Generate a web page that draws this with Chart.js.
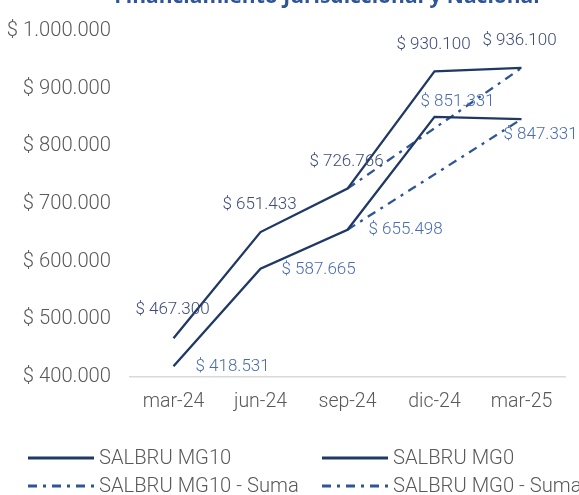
<!DOCTYPE html>
<html>
<head>
<meta charset="utf-8">
<script src="https://cdn.jsdelivr.net/npm/chart.js@4.4.1/dist/chart.umd.min.js"></script>
<style>
  html, body { margin: 0; padding: 0; background: #fff; overflow: hidden; }
  #wrap { position: relative; width: 579px; height: 495px; }
  #c { position: absolute; left: 0; top: 0; }
  .leg { position: absolute; font-family: Roboto, "Liberation Sans", sans-serif; font-weight: 300;
         font-size: 20.2px; color: #595959; white-space: nowrap; line-height: 22px; }
  .leg svg { position: absolute; left: 0; top: 10px; }
  .leg span { position: absolute; left: 71px; top: 0; }
</style>
</head>
<body>
<div id="wrap">
  <canvas id="c" width="579" height="495"></canvas>
  <div id="legend"></div>
</div>
<script>
// ---- Data ----
const categories = ["mar-24", "jun-24", "sep-24", "dic-24", "mar-25"];
const salbruMG10 = [467300, 651433, 726766, 930100, 936100];
const salbruMG0 = [418531, 587665, 655498, 851331, 847331];
const salbruMG10Suma = [null, null, 726766, null, 936100];
const salbruMG0Suma = [null, null, 655498, null, 847331];
const yTicks = [400000, 500000, 600000, 700000, 800000, 900000, 1000000];
const seriesNames = ["SALBRU MG10", "SALBRU MG0", "SALBRU MG10 - Suma", "SALBRU MG0 - Suma"];
const titleText = "Financiamiento Jurisdiccional y Nacional";

// ---- Styles ----
const NAVY = "#1f3864";
const DASHBLUE = "#2f5597";
const DASH = [9, 6, 3, 6];
const FONT = "Roboto, 'Liberation Sans', sans-serif";

function fmt(v) {
  return "$ " + String(Math.round(v)).replace(/\B(?=(\d{3})+(?!\d))/g, ".");
}

// label placement styles (offsets from point, px)
const labelStyles = {
  0: { color: "#3d4c78", align: "center", offsets: [[-1,-28],[-1,-27],[-1,-27],[-1,-27],[-2,-27]] },
  1: { color: "#4a6cb2", align: "left", offsets: [[22,0],[21,1],[21,0],[-14,-15],[-18,16]] }
};

const labelPlugin = {
  id: "pointLabels",
  afterDatasetsDraw(chart) {
    const ctx = chart.ctx;
    ctx.save();
    ctx.font = "300 17px " + FONT;
    ctx.textBaseline = "middle";
    Object.keys(labelStyles).forEach(k => {
      const i = Number(k);
      const st = labelStyles[k];
      const meta = chart.getDatasetMeta(i);
      const data = chart.data.datasets[i].data;
      ctx.fillStyle = st.color;
      ctx.textAlign = st.align;
      meta.data.forEach((pt, j) => {
        if (data[j] == null) return;
        const o = st.offsets[j];
        ctx.fillText(fmt(data[j]), pt.x + o[0], pt.y + o[1]);
      });
    });
    ctx.restore();
  }
};

const titlePlugin = {
  id: "cutTitle",
  afterDraw(chart) {
    const ctx = chart.ctx;
    ctx.save();
    ctx.font = "bold 21px 'Open Sans', " + FONT;
    ctx.fillStyle = "#2f5597";
    ctx.textAlign = "center";
    ctx.textBaseline = "alphabetic";
    ctx.fillText(titleText, 327, 3);
    ctx.restore();
  }
};

new Chart(document.getElementById("c"), {
  type: "line",
  data: {
    labels: categories,
    datasets: [
      { label: seriesNames[0], data: salbruMG10, borderColor: NAVY, borderWidth: 2.3 },
      { label: seriesNames[1], data: salbruMG0, borderColor: NAVY, borderWidth: 2.3 },
      { label: seriesNames[2], data: salbruMG10Suma, borderColor: DASHBLUE, borderWidth: 2.3, borderDash: DASH, spanGaps: true },
      { label: seriesNames[3], data: salbruMG0Suma, borderColor: DASHBLUE, borderWidth: 2.3, borderDash: DASH, spanGaps: true }
    ]
  },
  options: {
    responsive: false,
    animation: false,
    events: [],
    elements: { point: { radius: 0 }, line: { tension: 0, fill: false, borderCapStyle: "butt" } },
    layout: { padding: { top: 23, right: 14, left: 0, bottom: 78 } },
    plugins: { legend: { display: false }, tooltip: { enabled: false }, title: { display: false } },
    scales: {
      x: {
        offset: true,
        grid: { display: false, drawTicks: false, offset: true },
        border: { display: true, color: "#d9d9d9", width: 1.5 },
        ticks: { color: "#595959", font: { family: FONT, size: 19.5, weight: 300 }, padding: 13, maxRotation: 0 },
        afterFit(s) { s.height = 40; }
      },
      y: {
        min: 400000, max: 1000000,
        afterBuildTicks(s) { s.ticks = yTicks.map(v => ({ value: v })); },
        grid: { display: false, drawTicks: false },
        border: { display: false },
        ticks: { color: "#595959", font: { family: FONT, size: 20.2, weight: 300 }, padding: 19, callback: v => fmt(v) },
        afterFit(s) { s.width = 130; }
      }
    }
  },
  plugins: [labelPlugin, titlePlugin]
});

// ---- HTML legend ----
const legendPos = [[28, 446], [322, 446], [28, 474], [322, 474]];
const legendDashed = [false, false, true, true];
const legendColor = [NAVY, NAVY, DASHBLUE, DASHBLUE];
const lg = document.getElementById("legend");
seriesNames.forEach((name, i) => {
  const d = document.createElement("div");
  d.className = "leg";
  d.style.left = legendPos[i][0] + "px";
  d.style.top = legendPos[i][1] + "px";
  const dash = legendDashed[i] ? ' stroke-dasharray="' + DASH.join(" ") + '"' : "";
  d.innerHTML = '<svg width="66" height="4"><line x1="0" y1="2" x2="66" y2="2" stroke="' + legendColor[i] +
    '" stroke-width="3"' + dash + '/></svg><span>' + name + '</span>';
  lg.appendChild(d);
});
</script>
</body>
</html>
